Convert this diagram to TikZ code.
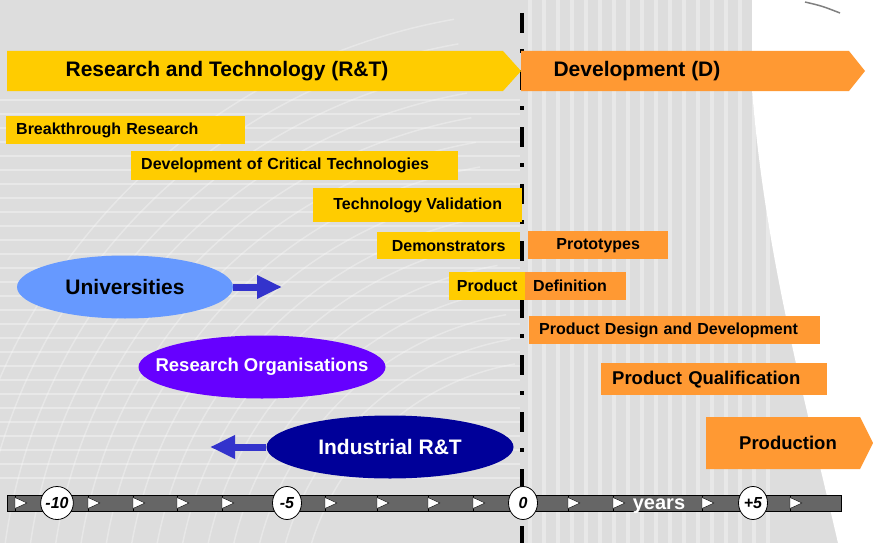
\documentclass[tikz,border=0pt]{standalone}
\usepackage{fontspec}
\setmainfont{Liberation Sans}
\usetikzlibrary{shapes.geometric,arrows.meta}

\definecolor{rtyellow}{HTML}{FFCC00}
\definecolor{devorange}{HTML}{FF9933}
\definecolor{unicolor}{HTML}{6699FF}
\definecolor{orgcolor}{HTML}{6600FF}
\definecolor{indcolor}{HTML}{000099}
\definecolor{flowblue}{HTML}{3333CC}
\definecolor{bargray}{HTML}{666666}
\definecolor{bggray}{HTML}{DDDDDD}

\newcommand{\bigsize}{\fontsize{21}{24}\selectfont\bfseries}
\newcommand{\midsize}{\fontsize{18.5}{22}\selectfont\bfseries}
\newcommand{\smallsize}{\fontsize{16}{19}\selectfont\bfseries}
\newcommand{\yearsize}{\fontsize{16}{18}\selectfont\bfseries\itshape}

\begin{document}
\begin{tikzpicture}[x=1pt,y=-1pt,
    rt/.style={fill=rtyellow, inner ysep=0pt, anchor=north west, font=\smallsize},
    dev/.style={fill=devorange, inner ysep=0pt, anchor=north west, font=\smallsize},
    actor/.style={ellipse, minimum width=247pt, minimum height=63pt, inner sep=0pt, font=\bigsize},
    flow/.style={flowblue, line width=7pt, -{Triangle[length=25pt,width=22pt]}},
    year/.style={ellipse, draw, thick, fill=white, minimum width=29pt, minimum height=33pt, inner sep=0pt, font=\yearsize}]

    \useasboundingbox (0,0) rectangle (873,543);
    \fill[bggray] (0,0) rectangle (873,543);
    \begin{scope}
        \clip (0,0) -- (752,0) -- (752,90) .. controls (765,250) and (800,380) .. (838,543) -- (0,543) -- cycle;
        \foreach \y in {100,114,...,480}
            \draw[white, opacity=0.35, line width=2pt] (0,\y) -- (520,\y);
        \foreach \x in {530,544,...,780}
            \draw[white, opacity=0.35, line width=4pt] (\x,0) -- (\x,543);
        \foreach \r in {260,285,...,610}
            \draw[white, opacity=0.3, line width=1.5pt] (560,620) ++(180:\r) arc (180:260:\r);
    \end{scope}
    \fill[white] (752,0) -- (752,90) .. controls (765,250) and (800,380) .. (838,543) -- (873,543) -- (873,0) -- cycle;
    \draw[gray, line width=1.5pt] (805,2) .. controls (822,6) .. (840,13);

    \coordinate (zerotop) at (522,0);
    \coordinate (zerobot) at (522,543);
    \draw[line width=4pt, dash pattern=on 20pt off 16pt on 4pt off 17pt, dash phase=44pt] (zerotop) -- (zerobot);

    \fill[rtyellow] (7,51) -- (503,51) -- (521,71) -- (503,91) -- (7,91) -- cycle;
    \node[font=\bigsize] (rtarrow) at (227,71) {Research and Technology (R\&T)};
    \fill[devorange] (521,51) -- (849,51) -- (865,71) -- (849,91) -- (521,91) -- cycle;
    \node[font=\bigsize] (devarrow) at (637,71) {Development (D)};

    \node[rt, minimum height=28pt, text width=219pt, inner xsep=10pt, align=left] (breakthrough) at (6,116) {Breakthrough Research};
    \node[rt, minimum height=29pt, text width=307pt, inner xsep=10pt, align=left] (critical) at (131,151) {Development of Critical Technologies};
    \node[rt, minimum height=34pt, minimum width=209pt] (validation) at (313,188) {Technology Validation};
    \node[rt, minimum height=27pt, minimum width=143pt] (demo) at (377,232) {Demonstrators};
    \node[rt, minimum height=28pt, minimum width=76pt] (product) at (449,272) {Product};

    \node[dev, minimum height=28pt, minimum width=140pt] (proto) at (528,231) {Prototypes};
    \node[dev, minimum height=28pt, text width=85pt, inner xsep=8pt, align=left] (definition) at (525,272) {Definition};
    \node[dev, minimum height=28pt, text width=271pt, inner xsep=10pt, align=left] (design) at (529,316) {Product Design and Development};
    \node[dev, minimum height=32pt, text width=204pt, inner xsep=11pt, align=left, font=\midsize] (qualif) at (601,363) {Product Qualification};
    \fill[devorange] (706,417) -- (860,417) -- (873,443) -- (860,469) -- (706,469) -- cycle;
    \node[font=\midsize] (production) at (788,443) {Production};

    \node[actor, fill=unicolor, minimum width=216pt] (univ) at (125,287) {Universities};
    \node[actor, fill=orgcolor, text=white, font=\midsize, inner xsep=-20pt] (resorg) at (262,367) {Research Organisations};
    \node[actor, fill=indcolor, text=white] (indrt) at (390,447) {Industrial R\&T};
    \coordinate (univto) at (282,287);
    \coordinate (indto) at (210,447);
    \draw[flow] (univ.east) -- (univto);
    \draw[flow] (indrt.west) -- (indto);

    \draw[fill=bargray] (7,495) rectangle (841,511);
    \foreach \t in {15,88,133,177,222,325,377,428,473,568,613,702,790} {
        \draw (\t,495) -- (\t,511);
        \draw[fill=white] (\t,497.5) -- (\t+12,503) -- (\t,508.5) -- cycle;
    }
    \node[year] (ym10) at (57,503) {-10};
    \node[year] (ym5) at (287,503) {-5};
    \node[year] (y0) at (523,503) {0};
    \node[year] (yp5) at (753,503) {+5};
    \node[font=\fontsize{20}{22}\selectfont\bfseries, text=white] (years) at (659,506) {years};
\end{tikzpicture}
\end{document}
